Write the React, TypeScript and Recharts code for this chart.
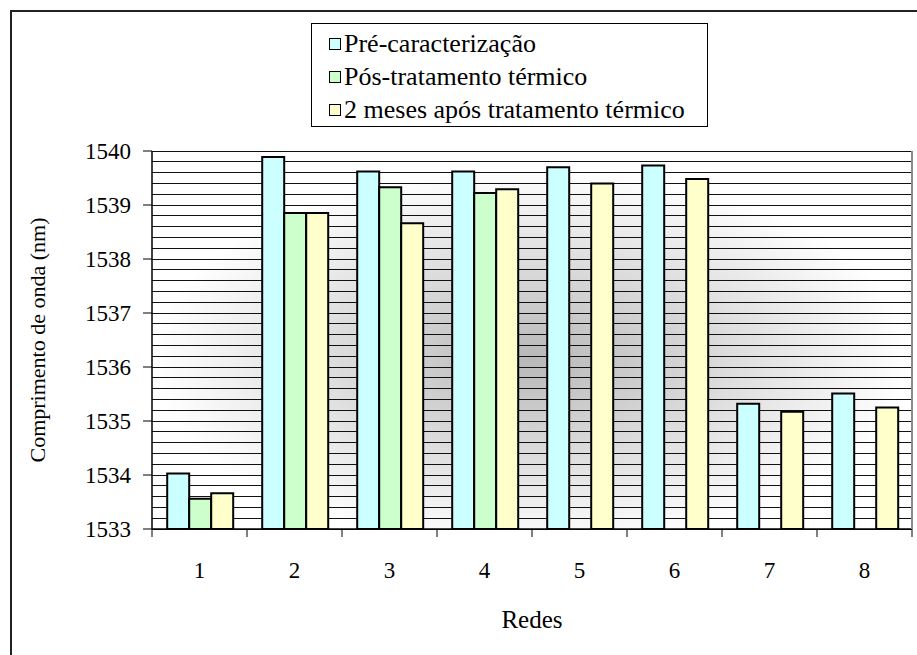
import React from "react";
import { Bar, BarChart, CartesianGrid, Legend, XAxis, YAxis } from "recharts";

const redes = ["1", "2", "3", "4", "5", "6", "7", "8"];
const preCaracterizacao = [1534.03, 1539.89, 1539.62, 1539.62, 1539.7, 1539.73, 1535.32, 1535.51];
const posTratamento = [1533.56, 1538.85, 1539.33, 1539.22, null, null, null, null];
const doisMeses = [1533.66, 1538.85, 1538.66, 1539.29, 1539.4, 1539.48, 1535.17, 1535.25];
const yTicks = [1533, 1534, 1535, 1536, 1537, 1538, 1539, 1540];

const series = [
  { key: "pre", name: "Pré-caracterização", color: "#CCFFFF" },
  { key: "pos", name: "Pós-tratamento térmico", color: "#CCFFCC" },
  { key: "meses", name: "2 meses após tratamento térmico", color: "#FFFFCC" }
];

const data = redes.map((r, i) => ({
  rede: r,
  pre: preCaracterizacao[i],
  pos: posTratamento[i],
  meses: doisMeses[i]
}));

// minor gridlines every 0.2 nm between the major ticks
const gridValues: number[] = [];
for (let i = 0; i < (yTicks.length - 1) * 5 + 1; i++) gridValues.push(Math.round((yTicks[0] + i * 0.2) * 10) / 10);

const FONT = "Liberation Serif, Times New Roman, DejaVu Serif, serif";
const W = 917;
const H = 655;
const PLOT_LEFT = 152;
const PLOT_RIGHT = 912;
const BAND = (PLOT_RIGHT - PLOT_LEFT) / redes.length;
const DOMAIN: [number, number] = [yTicks[0], yTicks[yTicks.length - 1]];

function XTick(props: any) {
  const { x, y, payload, index } = props;
  const last = index === redes.length - 1;
  return (
    <g>
      <line x1={x - BAND / 2} x2={x - BAND / 2} y1={y} y2={y + 8} stroke="#000" />
      {last && <line x1={x + BAND / 2} x2={x + BAND / 2} y1={y} y2={y + 8} stroke="#000" />}
      <text x={x} y={y + 49} textAnchor="middle" fontSize={23} style={{ fontFamily: FONT }} fill="#000">
        {payload.value}
      </text>
    </g>
  );
}

function LegendBox() {
  return (
    <div
      style={{
        width: 397,
        height: 104,
        boxSizing: "border-box",
        border: "1px solid #000",
        background: "#fff",
        padding: "3px 0 0 17px",
        fontFamily: FONT,
        fontSize: 26,
        lineHeight: "33px",
        color: "#000",
        textAlign: "left"
      }}
    >
      {series.map((s) => (
        <div key={s.key} style={{ height: 33, display: "flex", alignItems: "center", whiteSpace: "nowrap" }}>
          <span
            style={{
              display: "inline-block",
              width: 10,
              height: 10,
              border: "1px solid #000",
              background: s.color,
              marginRight: 3
            }}
          />
          {s.name}
        </div>
      ))}
    </div>
  );
}

export default function App() {
  return (
    <div style={{ position: "relative", width: W, height: H, overflow: "hidden", background: "#fff", fontFamily: FONT }}>
      <style>{"body{margin:0} .recharts-cartesian-grid-horizontal line{shape-rendering:crispEdges}"}</style>
      <svg width={0} height={0} style={{ position: "absolute" }}>
        <defs>
          <radialGradient id="plotBg" cx="0.5" cy="0.55" r="0.5">
            <stop offset="0%" stopColor="#b8b8b8" />
            <stop offset="100%" stopColor="#ffffff" />
          </radialGradient>
        </defs>
      </svg>
      <div
        style={{
          position: "absolute",
          left: 10,
          top: 10,
          width: W,
          height: H,
          borderTop: "2px solid #222",
          borderLeft: "2px solid #222"
        }}
      />
      <div style={{ position: "absolute", left: 0, top: 0 }}>
        <BarChart
          width={W}
          height={H}
          data={data}
          margin={{ top: 151, right: 0, bottom: 0, left: 0 }}
          barCategoryGap="16%"
          barGap={0}
        >
          <CartesianGrid
            vertical={false}
            yAxisId="grid"
            stroke="#111"
            strokeWidth={1}
            fill="url(#plotBg)"
            fillOpacity={1}
          />
          <XAxis
            dataKey="rede"
            height={126}
            tickSize={0}
            tickMargin={0}
            tickLine={false}
            tick={<XTick />}
            axisLine={{ stroke: "#000", strokeWidth: 1.5 }}
            label={{
              content: ({ viewBox }: any) => (
                <text
                  x={viewBox.x + viewBox.width / 2}
                  y={viewBox.y + 99}
                  textAnchor="middle"
                  fontSize={25}
                  style={{ fontFamily: FONT }}
                  fill="#000"
                >
                  Redes
                </text>
              )
            }}
          />
          <XAxis xAxisId="top" orientation="top" height={0} tick={false} tickLine={false} axisLine={{ stroke: "#8c8c8c", strokeWidth: 2 }} />
          <YAxis
            width={PLOT_LEFT}
            domain={DOMAIN}
            ticks={yTicks}
            allowDataOverflow
            tickSize={9}
            tickMargin={12}
            tickLine={{ stroke: "#000" }}
            axisLine={{ stroke: "#000", strokeWidth: 1.5 }}
            tick={{ fontSize: 23, fill: "#000", style: { fontFamily: FONT } }}
            label={{
              content: ({ viewBox }: any) => {
                const cx = viewBox.x + 37;
                const cy = viewBox.y + viewBox.height / 2;
                return (
                  <text
                    x={cx}
                    y={cy}
                    transform={`rotate(-90, ${cx}, ${cy})`}
                    textAnchor="middle"
                    dominantBaseline="central"
                    fontSize={22}
                    style={{ fontFamily: FONT }}
                    fill="#000"
                  >
                    Comprimento de onda (nm)
                  </text>
                );
              }
            }}
          />
          <YAxis yAxisId="grid" hide width={0} domain={DOMAIN} ticks={gridValues} interval={0} allowDataOverflow />
          <YAxis yAxisId="right" orientation="right" width={W - PLOT_RIGHT} tick={false} tickLine={false} axisLine={{ stroke: "#8c8c8c", strokeWidth: 2 }} />
          <Legend
            layout="horizontal"
            verticalAlign="middle"
            align="center"
            wrapperStyle={{ top: 23, left: 311, width: "auto" }}
            content={() => <LegendBox />}
          />
          {series.map((s) => (
            <Bar
              key={s.key}
              dataKey={s.key}
              name={s.name}
              fill={s.color}
              stroke="#000"
              strokeWidth={2}
              isAnimationActive={false}
            />
          ))}
        </BarChart>
      </div>
    </div>
  );
}
